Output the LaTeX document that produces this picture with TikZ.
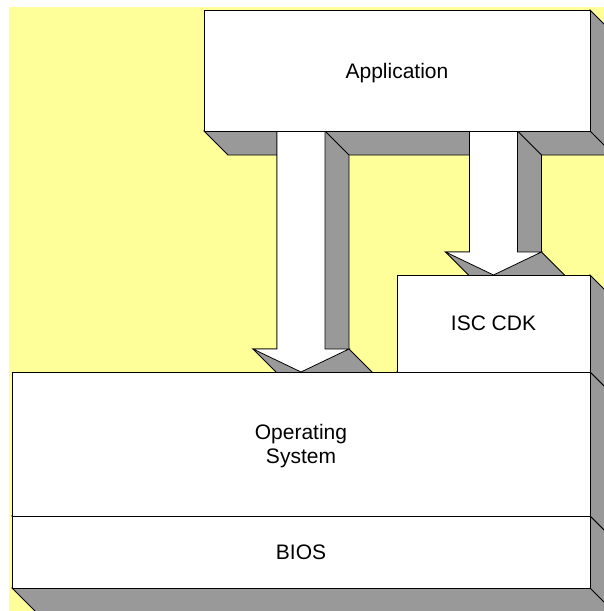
\documentclass[tikz,border=0pt]{standalone}
\usepackage{fontspec}
\setmainfont{Liberation Sans}
\usetikzlibrary{calc,backgrounds}
\definecolor{paper}{HTML}{FFFF99}
\definecolor{sidegray}{HTML}{999999}

% right and bottom sides of a raised box
\newcommand{\boxsides}[1]{%
  \filldraw[side] (#1.north east) -- ++(24,24) -- ($(#1.south east)+(24,24)$)
    -- ($(#1.south west)+(24,24)$) -- (#1.south west) -- (#1.south east) -- cycle;
  \draw[edge] (#1.south east) -- ++(24,24);
}
% block arrow, #1 = top of the shaft, #2 = tip
\newcommand{\blockarrow}[2]{%
  \filldraw[side] ($(#1)+(-24,0)$) -- ($(#1)+(24,0)$) -- ($(#1)+(48,24)$)
    -- ($(#2)+(48,-23)$) -- ($(#2)+(72,1)$) -- ($(#2)+(24,24)$)
    -- ($(#2)+(-24,1)$) -- ($(#2)+(-48,-23)$) -- ($(#2)+(-24,-23)$) -- cycle;
  \filldraw[arrowface] ($(#1)+(-24,0)$) -- ($(#1)+(24,0)$) -- ($(#2)+(24,-23)$)
    -- ($(#2)+(48,-23)$) -- (#2) -- ($(#2)+(-48,-23)$) -- ($(#2)+(-24,-23)$) -- cycle;
}

\begin{document}
\begin{tikzpicture}[x=1pt, y=-1pt,
    edge/.style = {line width=0.8pt, draw=black},
    side/.style = {edge, fill=sidegray},
    arrowface/.style = {edge, fill=white},
    face/.style = {draw, fill=white, line width=0.8pt, inner sep=0pt, outer sep=0pt,
      align=center, text depth=0pt, font=\fontsize{21}{24}\selectfont}]
    \useasboundingbox (0,0) rectangle (604,611);

    \node[face, minimum width=386, minimum height=121] (app) at (397,70.5) {Application};
    \node[face, minimum width=193, minimum height=97] (isc) at (493.5,323.5) {ISC CDK};
    \node[face, minimum width=578, minimum height=144] (os) at (301,444) {Operating\\System};
    \node[face, minimum width=578, minimum height=72] (bios) at (301,552) {BIOS};

    \coordinate (osdrop) at (app.south -| os.north);
    \coordinate (iscdrop) at (app.south -| isc.north);

    \begin{pgfonlayer}{background}
        \clip (0,0) rectangle (604,611);
        \fill[paper] (9,7) rectangle (604,611);
        \boxsides{app}
        \blockarrow{osdrop}{os.north}
        \blockarrow{iscdrop}{isc.north}
        \boxsides{isc}
        \boxsides{os}
        \boxsides{bios}
    \end{pgfonlayer}
\end{tikzpicture}
\end{document}
